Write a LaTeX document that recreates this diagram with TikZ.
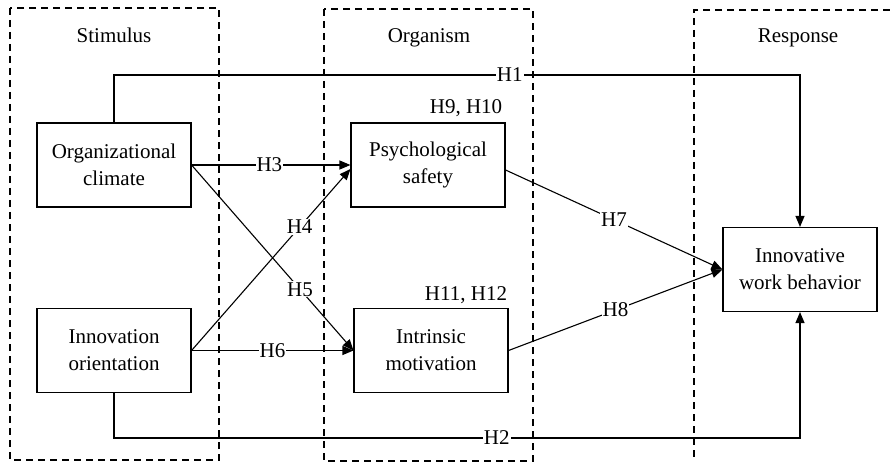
\documentclass[tikz,border=0pt]{standalone}
\usepackage{fontspec}
\setmainfont{Liberation Serif}
\usetikzlibrary{arrows.meta}
\begin{document}
\begin{tikzpicture}[x=1pt,y=-1pt,
  every node/.style={font=\fontsize{21}{27}\selectfont},
  box/.style={draw, line width=1.1pt, minimum width=154pt, minimum height=84pt, align=center, inner sep=2pt},
  grp/.style={draw, line width=1.1pt, dash pattern=on 7pt off 5pt},
  arr/.style={line width=1.1pt, -{Triangle[length=11pt,width=9pt]}},
  lbl/.style={fill=white, inner sep=1pt},
  ttl/.style={anchor=base}]
\useasboundingbox (0,0) rectangle (890,462);
% group frames
\draw[grp] (10,8) rectangle (219,460);
\draw[grp] (324,9) rectangle (533,461);
\draw[grp] (890,10) -- (694,10) -- (694,462);
\node[ttl] (tS) at (114,43) {Stimulus};
\node[ttl] (tO) at (429,43) {Organism};
\node[ttl] (tR) at (798,43) {Response};
% boxes
\node[box] (oc) at (114,165) {Organizational\\climate};
\node[box] (io) at (114,350.5) {Innovation\\orientation};
\node[box] (ps) at (428,165) {Psychological\\safety};
\node[box] (im) at (431,350.5) {Intrinsic\\motivation};
\node[box] (iwb) at (800,269.5) {Innovative\\work behavior};
\node[anchor=base] (h910) at (466,114) {H9, H10};
\node[anchor=base] (h1112) at (466,300) {H11, H12};
% coordinates for elbow connectors
\coordinate (a1) at (114,75);
\coordinate (b1) at (800,75);
\coordinate (a2) at (114,438);
\coordinate (b2) at (800,438);
% connectors
\draw[arr] (oc.north) -- (a1) -- node[lbl,pos=0.577]{H1} (b1) -- (iwb.north);
\draw[arr] (io.south) -- (a2) -- node[lbl,pos=0.558]{H2} (b2) -- (iwb.south);
\draw[arr] (oc.east) -- node[lbl,pos=0.49]{H3} (ps.west);
\draw[arr] (io.east) -- node[lbl,pos=0.68]{H4} ([yshift=-4pt]ps.west);
\draw[arr] (oc.east) -- node[lbl,pos=0.67]{H5} (im.west);
\draw[arr] (io.east) -- node[lbl,pos=0.5]{H6} (im.west);
\draw[arr] ([yshift=-5pt]ps.east) -- node[lbl,pos=0.5]{H7} (iwb.west);
\draw[arr] (im.east) -- node[lbl,pos=0.5]{H8} (iwb.west);
\end{tikzpicture}
\end{document}
